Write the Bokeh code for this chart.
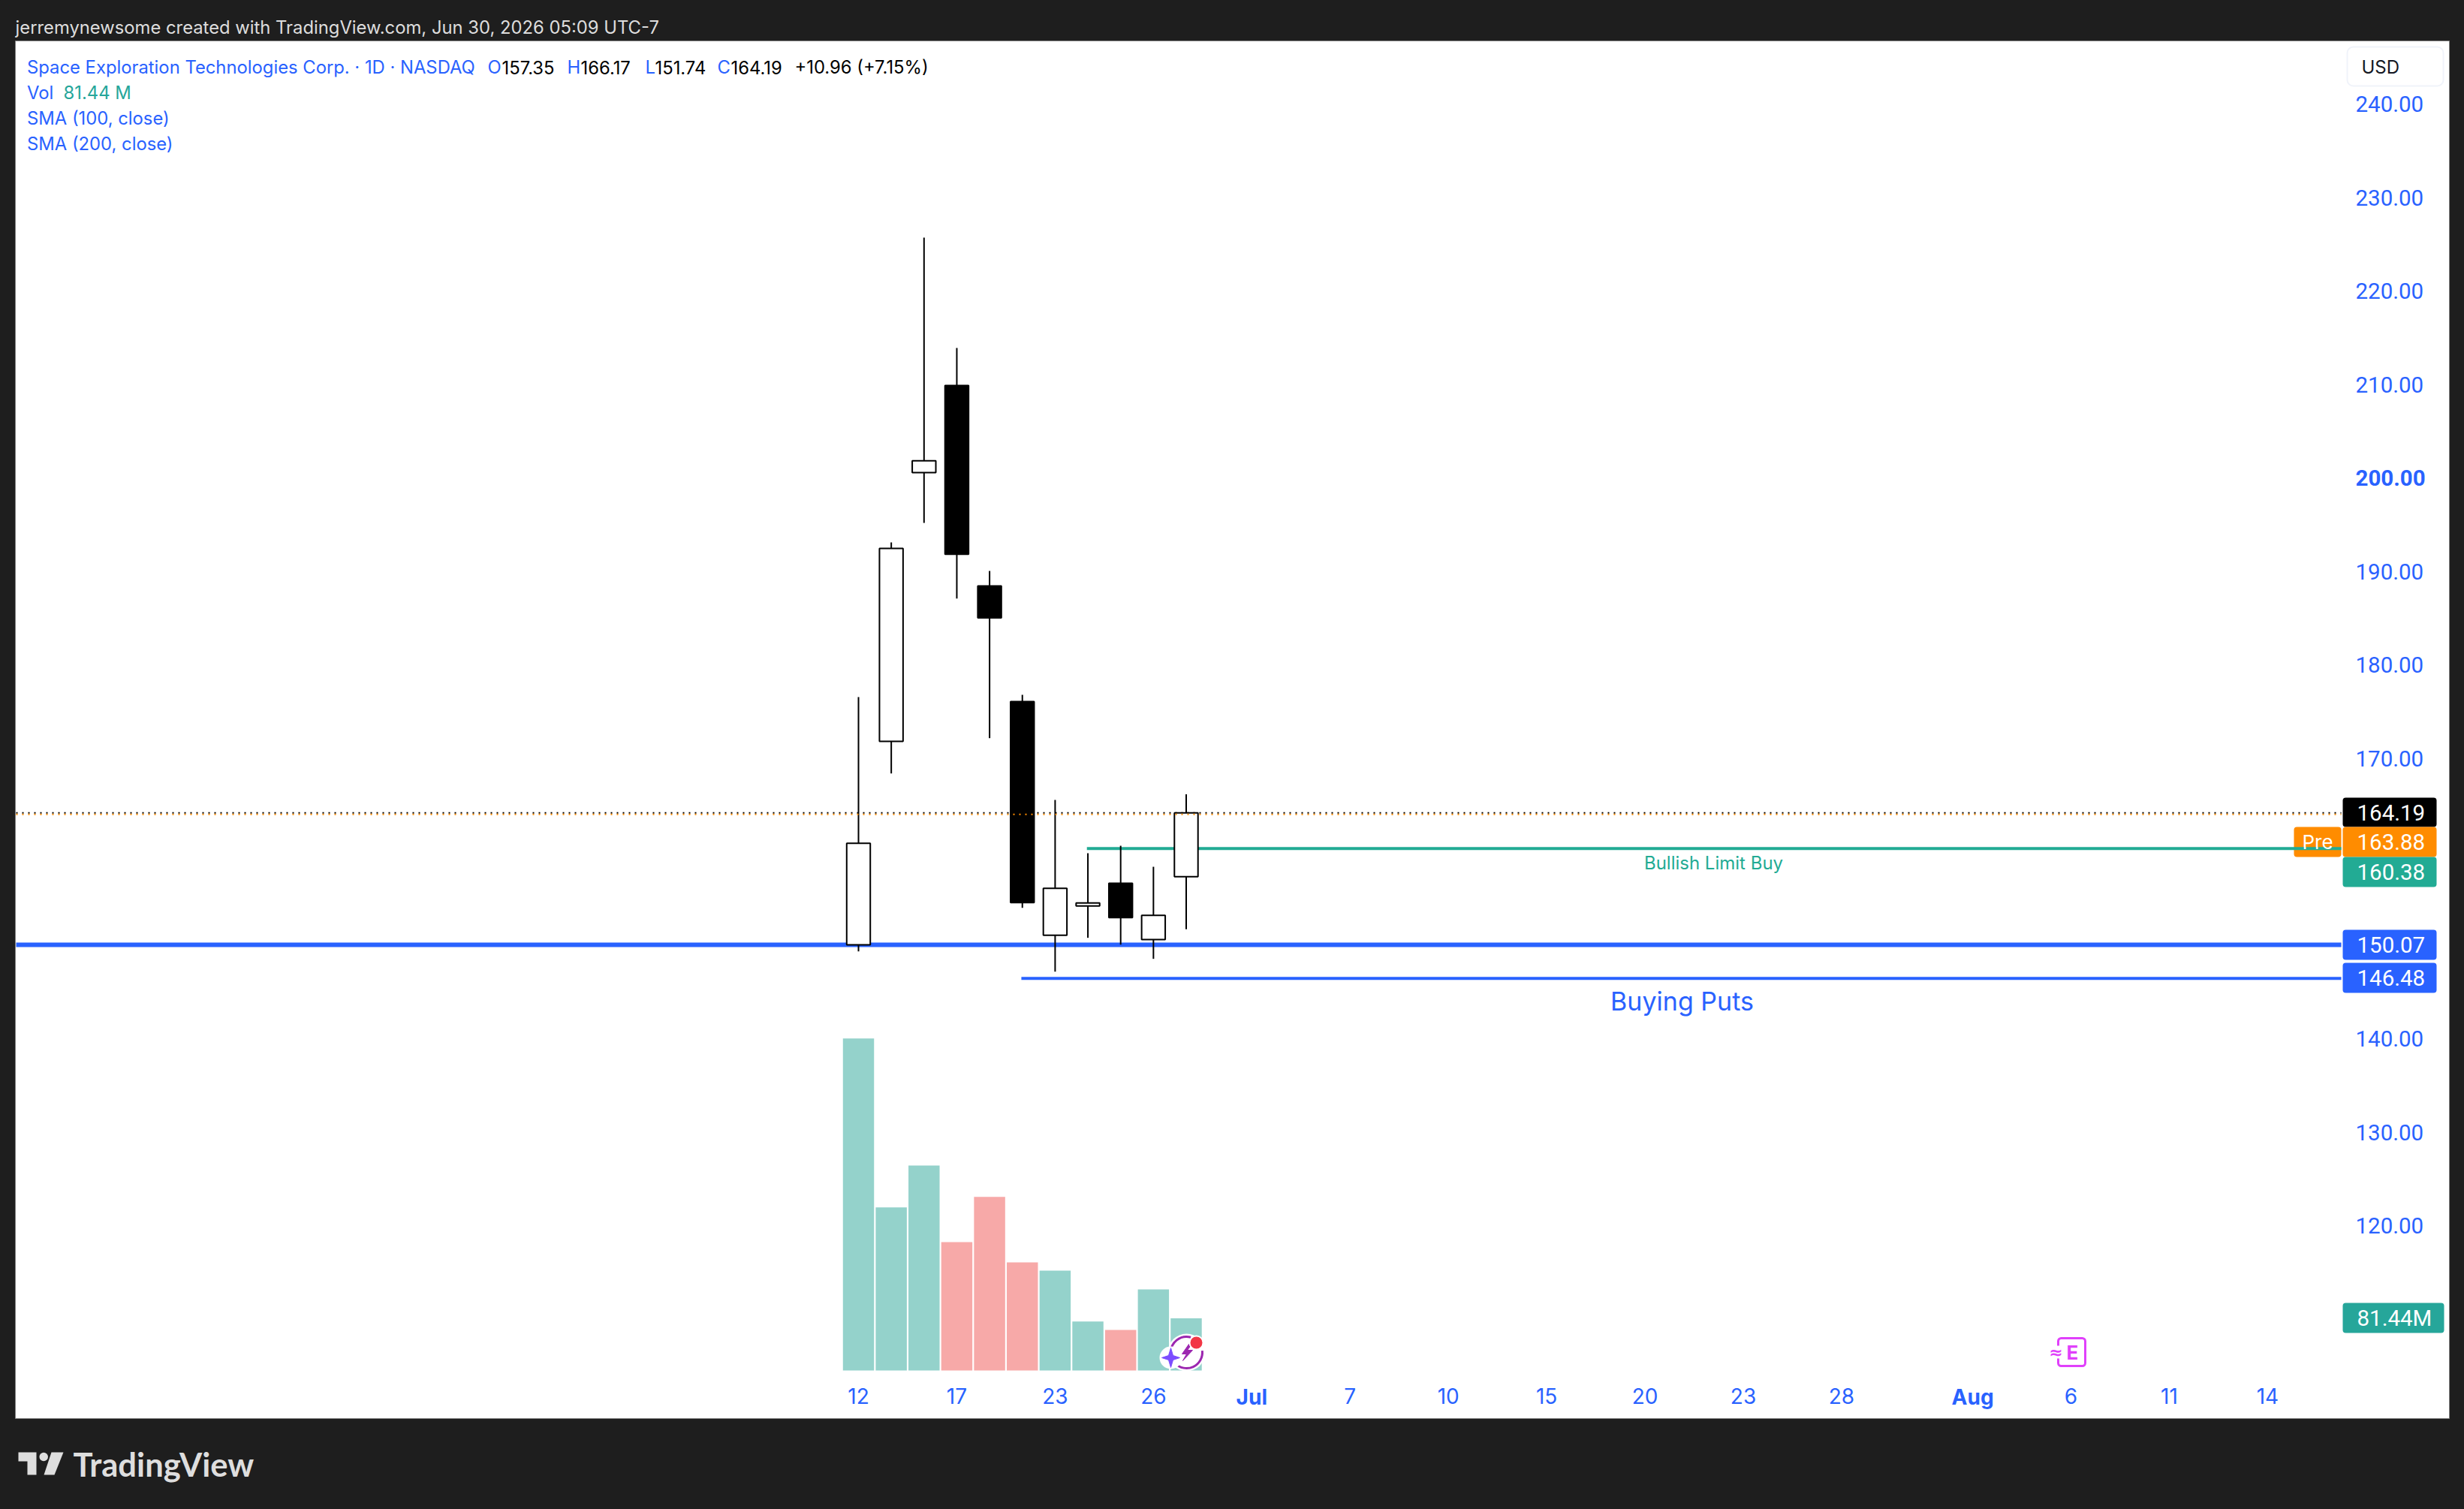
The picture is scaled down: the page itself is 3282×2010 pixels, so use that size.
import numpy as np
from bokeh.plotting import figure
from bokeh.embed import file_html
from bokeh.resources import INLINE
from bokeh.models import (Range1d, LinearAxis, FixedTicker, PrintfTickFormatter, Label,
                          BoxAnnotation)

# ---------- data ----------
bar_dates = ["Jun 12", "Jun 15", "Jun 16", "Jun 17", "Jun 18", "Jun 22", "Jun 23", "Jun 24", "Jun 25", "Jun 26", "Jun 29"]
opens  = [150.07, 171.84, 200.59, 209.91, 188.46, 176.09, 151.09, 154.22, 156.66, 150.63, 157.35]
highs  = [176.58, 193.12, 225.73, 213.92, 190.07, 176.82, 165.57, 159.87, 160.67, 158.42, 166.17]
lows   = [149.37, 168.41, 195.21, 187.12, 172.18, 154.03, 147.20, 150.82, 150.09, 148.57, 151.74]
closes = [160.94, 192.48, 201.85, 191.86, 185.04, 154.59, 156.12, 154.54, 152.99, 153.23, 164.19]
volumes = [518.4, 254.6, 320.0, 200.4, 271.1, 168.9, 156.0, 76.4, 63.4, 126.5, 81.44]

price_ticks = [120, 130, 140, 170, 180, 190, 210, 220, 230, 240]
bold_price_ticks = [200]
date_tick_pos = [0, 3, 6, 9, 15, 18, 21, 24, 27, 30, 37, 40, 43]
date_tick_txt = ["12", "17", "23", "26", "7", "10", "15", "20", "23", "28", "6", "11", "14"]
month_tick_pos = [12, 34]
month_tick_txt = ["Jul", "Aug"]

last_price = 164.19
pre_line_level = 164.03
levels = [150.07, 146.48, 160.38]
level_start_bar = [None, 4.97, 6.97]
level_widths = [6, 4, 4]
level_colors = ["#2962FF", "#2962FF", "#22AB94"]

FONT = "Inter"
NUMFONT = "Roboto"
BLUE = "#2962FF"
DARK = "#1E1E1E"

# ---------- layout helpers: window pixels -> data ----------
W, H = 3282, 2010
FL, FR, FT, FB = 20, 3262, 54, 1889
def X(px): return (px - 1143) / 43.65
def Y(py): return 150.07 + (1258 - py) / 12.45
VOL_BASE, VOL_SCALE = 1825, 0.853
LINE_END = X(3118)

p = figure(width=W, height=H, output_backend="svg", toolbar_location=None,
           x_axis_location=None, y_axis_location=None,
           x_range=Range1d(X(0), X(W)), y_range=Range1d(Y(H), Y(0)),
           min_border=0, border_fill_color=DARK, background_fill_color=DARK,
           outline_line_color=None)
p.grid.visible = False
p.extra_y_ranges = {"vol": Range1d((VOL_BASE - H) / VOL_SCALE, VOL_BASE / VOL_SCALE)}

def box(x0, x1, y0, y1, fill, line=None, lw=1, r=4):
    p.add_layout(BoxAnnotation(left=X(x0), right=X(x1), top=Y(y0), bottom=Y(y1),
                               fill_color=fill, fill_alpha=1, line_color=line, line_width=lw,
                               line_alpha=1, border_radius=r, level="underlay", editable=False))

# chart pane
box(FL, FR, FT, FB, "white", line="#808080", lw=1, r=0)

# ---------- volume ----------
idx = list(range(len(opens)))
up = [c >= o for o, c in zip(opens, closes)]
vol_colors = ["#94D2CB" if u else "#F7A9A8" for u in up]
p.vbar(x=idx, top=volumes, bottom=0, width=0.95, color=vol_colors, line_color=None, y_range_name="vol")

# ---------- levels ----------
p.line([X(FL + 1), LINE_END], [last_price, last_price], color="black", line_width=2, line_dash="2 6")
for lv, st, lw, col in zip(levels, level_start_bar, level_widths, level_colors):
    p.line([X(FL + 1) if st is None else st, LINE_END], [lv, lv], color=col, line_width=lw)

# ---------- candles ----------
p.segment(idx, lows, idx, highs, color="black", line_width=2)
p.vbar(x=idx, top=[max(o, c) for o, c in zip(opens, closes)], bottom=[min(o, c) for o, c in zip(opens, closes)],
       width=0.72, fill_color=["white" if u else "black" for u in up], line_color="black", line_width=2)
p.line([X(FL + 1), LINE_END], [pre_line_level, pre_line_level], color="#FF8C00", line_width=2, line_dash="2 6")

# ---------- axes ----------
def axis(ticks, loc, side, bold=False, overrides=None, size="28px", font=FONT):
    a = LinearAxis(fixed_location=loc, ticker=FixedTicker(ticks=ticks),
                   axis_line_color=None, major_tick_line_color=None, minor_tick_line_color=None,
                   major_label_text_color=BLUE, major_label_text_font=font,
                   major_label_text_font_size=size, major_label_standoff=0,
                   major_label_text_font_style="bold" if bold else "normal")
    if overrides:
        a.major_label_overrides = overrides
    else:
        a.formatter = PrintfTickFormatter(format="%.2f")
    p.add_layout(a, side)

axis(price_ticks, X(3131), "right", size="29.5px", font=NUMFONT)
axis(bold_price_ticks, X(3131), "right", bold=True, size="29.5px", font=NUMFONT)
axis(date_tick_pos, Y(1842), "below", overrides=dict(zip(date_tick_pos, date_tick_txt)))
axis(month_tick_pos, Y(1837), "below", bold=True, overrides=dict(zip(month_tick_pos, month_tick_txt)))

# ---------- text helpers ----------
def label(x, y, text, color=BLUE, size=23.8, style="normal", align="left", font=FONT):
    p.add_layout(Label(x=X(x), y=Y(y), text=text, text_color=color, text_font=font,
                       text_font_size=f"{size}px", text_font_style=style,
                       text_align=align, text_baseline="middle"))

# header + legend
label(20, 36, "jerremynewsome created with TradingView.com, Jun 30, 2026 05:09 UTC-7", color="#DDDDDD")
label(35.5, 89, "Space Exploration Technologies Corp. · 1D · NASDAQ")
for xp, t, c in [(649, "O", BLUE), (668, "157.35", "black"), (755, "H", BLUE), (773, "166.17", "black"),
                 (859, "L", BLUE), (872, "151.74", "black"), (955, "C", BLUE), (973, "164.19", "black"),
                 (1058, "+10.96 (+7.15%)", "black")]:
    label(xp, 89, t, color=c)
label(35.5, 123, "Vol")
label(84, 123, "81.44 M", color="#26A69A")
label(35.5, 157, "SMA (100, close)")
label(35.5, 191, "SMA (200, close)")

# currency box
box(3126, 3254, 62, 114, "white", line="#F0F3FA", lw=2, r=8)
label(3145, 88.5, "USD", color="#131722", size=24)

# price tags
tags = [(1062, 1101, "#000000", "164.19"), (1101, 1141, "#FF8C00", "163.88"), (1141, 1181, "#22AB94", "160.38"),
        (1238, 1278, BLUE, "150.07"), (1282, 1322, BLUE, "146.48")]
for y0, y1, col, t in tags:
    box(3120, 3245, y0, y1, col)
    label(3139, (y0 + y1) / 2, t, color="white", size=29.5, font=NUMFONT)
box(3055, 3118, 1101, 1141, "#FF8C00")
label(3086.5, 1121, "Pre", color="white", size=26, align="center")
box(3120, 3255, 1735, 1775, "#26A69A")
label(3139, 1755, "81.44M", color="white", size=29.5, font=NUMFONT)

# drawing labels
label(2282, 1149, "Bullish Limit Buy", color="#22AB94", size=24, align="center")
label(2240, 1333, "Buying Puts", size=34, align="center")

# earnings icon
box(2741, 2777, 1782, 1819, "white", line="#E040FB", lw=3, r=4)
box(2733, 2746, 1792, 1809, "white", r=0)
label(2760, 1801, "E", color="#E040FB", size=26, style="bold", align="center")
label(2738, 1801, "≈", color="#E040FB", size=22, style="bold", align="center", font="DejaVu Sans")

# news / bolt icon
cx, cy = 1580, 1801
p.scatter([X(cx)], [Y(cy)], size=50, fill_color="white", line_color=None)
p.arc([X(cx)], [Y(cy)], radius=dict(value=21, units="screen"), start_angle=1.3, end_angle=3.2,
      line_color="#9C27B0", line_width=3)
p.arc([X(cx)], [Y(cy)], radius=dict(value=21, units="screen"), start_angle=3.9, end_angle=6.4,
      line_color="#9C27B0", line_width=3)
bolt = [(3, -11), (-6, 2), (0, 2), (-5, 11), (8, -3), (1, -3), (7, -11)]
p.patch([X(cx + a) for a, b in bolt], [Y(cy + b) for a, b in bolt], color="#9C27B0")
p.scatter([X(1593)], [Y(1788)], size=18, fill_color="#F23645", line_color="white", line_width=2)
sx, sy = 1559, 1808
star = [(0, -13), (3, -3), (12, 0), (3, 3), (0, 13), (-3, 3), (-12, 0), (-3, -3)]
p.scatter([X(sx)], [Y(sy)], size=30, fill_color="white", line_color=None)
p.patch([X(sx + a) for a, b in star], [Y(sy + b) for a, b in star], color="#7C4DFF")

# TradingView logo
LOGO = "#DEDEDE"
def poly(pts):
    p.patch([X(a) for a, b in pts], [Y(b) for a, b in pts], color=LOGO, line_color=None)
poly([(24, 1934), (48, 1934), (48, 1964), (36, 1964), (36, 1946), (24, 1946)])
poly([(68, 1934), (84, 1934), (72, 1964), (58, 1964)])
p.scatter([X(57.7)], [Y(1940)], size=11.5, color=LOGO, line_color=None)
label(97, 1949, "TradingView", color=LOGO, size=43.6, style="bold", font="Lato")

html = file_html(p, INLINE)
html = html.replace("</head>", "<style>html,body{background:#1E1E1E;}</style></head>", 1)
open("out.html", "w").write(html)
